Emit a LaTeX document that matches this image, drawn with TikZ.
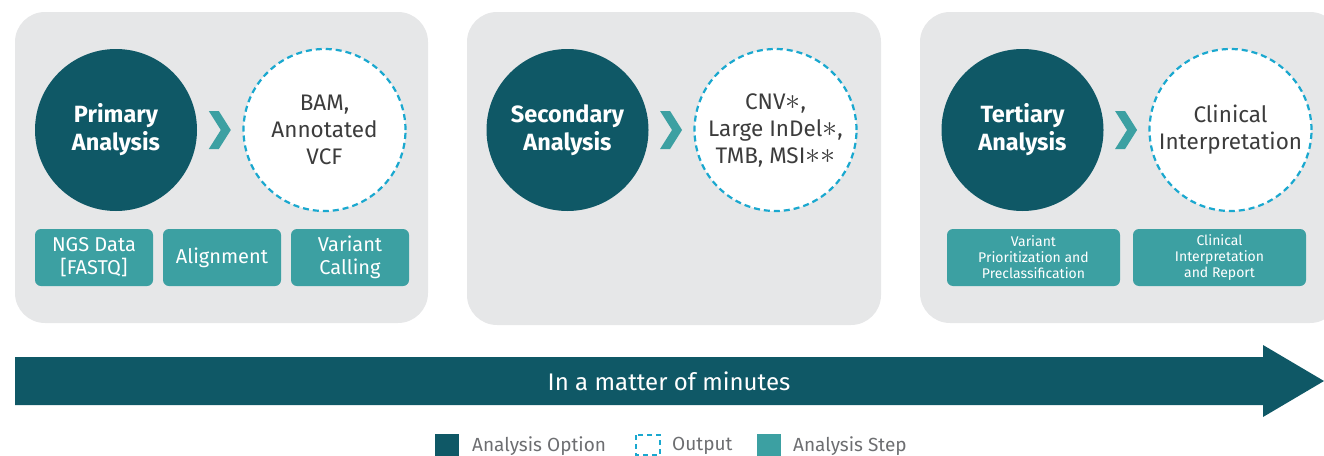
\documentclass[tikz,border=0pt]{standalone}
\usepackage{fontspec}
\usepackage{graphicx}
\setmainfont{Fira Sans}
\usetikzlibrary{calc}
\definecolor{darkteal}{HTML}{0F5866}
\definecolor{stepteal}{HTML}{3CA0A2}
\definecolor{dashcyan}{HTML}{1AA8CF}
\definecolor{panelgray}{HTML}{E6E7E8}
\definecolor{outtext}{HTML}{3C3C3C}
\definecolor{legtext}{HTML}{6D6E71}
\newcommand{\midstar}{\raisebox{-0.05ex}{\scalebox{1.45}{$\ast$}}}
\tikzset{
  panel/.style={fill=panelgray, draw=none, rounded corners=30pt},
  option/.style={circle, fill=darkteal, minimum size=162pt, inner sep=0pt, text=white, align=center,
     font=\bfseries\fontsize{23.5}{28}\selectfont},
  output/.style={circle, fill=white, draw=dashcyan, line width=2.2pt, dash pattern=on 6pt off 4pt,
     minimum size=162pt, inner sep=0pt, text=outtext, align=center, font=\fontsize{22.5}{27}\selectfont},
  stepbox/.style={fill=stepteal, rounded corners=6pt, text=white, align=center, inner sep=0pt,
     minimum height=57pt, font=\fontsize{20}{23}\selectfont},
  smallstep/.style={stepbox, font=\fontsize{14}{16}\selectfont},
  chev/.style={fill=stepteal, draw=none},
  legend/.style={text=legtext, font=\fontsize{19}{22}\selectfont, anchor=west, inner sep=0pt},
}
\begin{document}
\begin{tikzpicture}[x=1pt,y=-1pt]
\useasboundingbox (0,0) rectangle (1324,455);
% panels
\fill[panel] (15,12) rectangle (428,323);
\fill[panel] (467,12) rectangle (881,325);
\fill[panel] (920,12) rectangle (1340,323);
% panel 1
\node[option] (pa) at (116,130) {Primary\\Analysis};
\node[output] (po) at (324.5,130) {BAM,\\Annotated\\VCF};
\node[stepbox, minimum width=118pt] (s1) at (94,257.5) {NGS Data\\{[FASTQ]}};
\node[stepbox, minimum width=118pt] (s2) at (222,257.5) {Alignment};
\node[stepbox, minimum width=118pt] (s3) at (350,257.5) {Variant\\Calling};
% panel 2
\node[option] (sa) at (567.5,130) {Secondary\\Analysis};
\node[output] (so) at (775.5,130) {CNV\midstar,\\Large InDel\midstar,\\TMB, MSI\midstar\midstar};
% panel 3
\node[option] (ta) at (1022.5,130) {Tertiary\\Analysis};
\node[output] (to) at (1230.5,130) {Clinical\\Interpretation};
\node[smallstep, minimum width=173pt] (t1) at (1033.5,257.5) {Variant\\Prioritization and\\Preclassification};
\node[smallstep, minimum width=173pt] (t2) at (1219.5,257.5) {Clinical\\Interpretation\\and Report};
% chevrons
\foreach \a/\b in {pa/po, sa/so, ta/to}{
  \path ($(\a.east)!0.5!(\b.west)$) coordinate (m);
  \fill[chev] ([xshift=-11pt,yshift=-19pt]m) -- ([xshift=-1pt,yshift=-19pt]m) -- ([xshift=11pt]m)
     -- ([xshift=-1pt,yshift=19pt]m) -- ([xshift=-11pt,yshift=19pt]m) -- ([xshift=1pt]m) -- cycle;
}
% big arrow
\fill[darkteal] (15,357) -- (1263,357) -- (1263,345) -- (1324,381) -- (1263,417) -- (1263,405) -- (15,405) -- cycle;
\node[text=white, font=\fontsize{24}{28}\selectfont] (arrowtext) at (669,381) {In a matter of minutes};
% legend
\fill[darkteal] (435,434) rectangle (459,456);
\node[legend] (l1) at (472,446) {Analysis Option};
\draw[dashcyan, line width=2pt, dash pattern=on 5pt off 4pt] (636,435) rectangle (660,455);
\node[legend] (l2) at (672,446) {Output};
\fill[stepteal] (757,434) rectangle (781,456);
\node[legend] (l3) at (793,446) {Analysis Step};
\end{tikzpicture}
\end{document}
